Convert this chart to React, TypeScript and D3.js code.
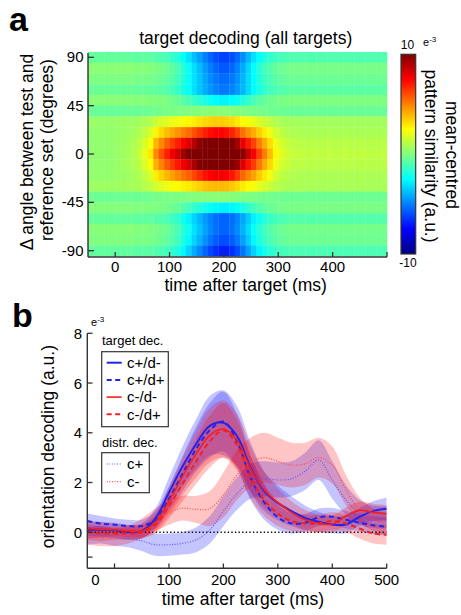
import React from "react";
import * as d3 from "d3";

// ---------- panel a : heatmap ----------
const angles = [90, 80, 70, 60, 50, 40, 30, 20, 10, 0, -10, -20, -30, -40, -50, -60, -70, -80, -90];
// tuning weight of every row (positive = similar, negative = opposite)
const rowWeight = [-0.9, -0.95, -0.85, -0.75, -0.45, 0.05, 0.22, 0.52, 0.8, 1.0, 0.82, 0.54, 0.24, 0.04, -0.45, -0.8, -0.9, -0.95, -1.0];
const rowOffset = [-0.3, 0.5, 0.2, -0.2, 0.3, -0.5, 0.4, 0.2, 0.1, 0.0, 0.1, 0.2, 0.5, -0.4, 0.2, -0.3, 0.4, 0.3, -0.3];
// 10 ms bins from -50 to 500 ms
const binStarts = d3.range(-50, 500, 10);
const posAmp = [0.3, 0.3, 0.3, 0.3, 0.4, 0.5, 0.6, 0.8, 1.0, 1.4, 2.1, 2.9, 4.8, 5.9, 6.9, 7.7, 8.5, 9.3, 10.0, 11.0,
  12.0, 13.0, 13.6, 14.0, 14.0, 13.6, 12.8, 11.4, 9.8, 8.6, 7.6, 6.2, 5.0, 3.8, 2.6, 2.0, 1.6, 1.4, 1.3, 1.3,
  1.2, 1.3, 1.2, 1.2, 1.3, 1.2, 1.2, 1.3, 1.2, 1.2, 1.3, 1.2, 1.2, 1.2, 1.3];
const negAmp = [0.3, 0.3, 0.3, 0.3, 0.3, 0.3, 0.3, 0.3, 0.35, 0.4, 0.4, 0.45, 0.55, 0.7, 0.9, 1.2, 1.6, 2.3, 3.0, 3.8,
  4.5, 5.2, 5.8, 6.3, 6.6, 6.6, 6.3, 5.7, 4.9, 4.0, 3.1, 2.4, 1.8, 1.4, 1.1, 0.9, 0.8, 0.7, 0.7, 0.7,
  0.7, 0.7, 0.7, 0.7, 0.7, 0.7, 0.7, 0.7, 0.7, 0.7, 0.7, 0.7, 0.7, 0.7, 0.7];
const heatXTicks = [0, 100, 200, 300, 400];
const heatYTicks = [90, 45, 0, -45, -90];

// ---------- panel b : decoding time courses ----------
const times = [-50, -25, 0, 25, 50, 75, 100, 125, 150, 175, 200, 225, 250, 275, 300, 325, 350, 375, 400, 425, 450, 475, 500];
const cpdm = [0.1, 0.1, 0.08, 0.0, 0.05, 0.55, 1.6, 2.65, 3.55, 4.28, 4.4, 3.87, 2.6, 1.65, 1.18, 0.85, 0.58, 0.42, 0.31, 0.31, 0.62, 0.85, 0.94];
const cpdp = [0.45, 0.35, 0.3, 0.25, 0.25, 0.5, 1.35, 2.35, 3.35, 4.1, 4.45, 3.65, 2.2, 1.2, 0.6, 0.35, 0.38, 0.6, 0.62, 0.5, 0.38, 0.28, 0.22];
const cmdm = [0.15, 0.12, 0.1, 0.05, 0.05, 0.4, 1.25, 2.25, 3.15, 3.9, 4.15, 3.7, 2.55, 1.7, 1.2, 0.8, 0.5, 0.35, 0.33, 0.65, 0.88, 0.8, 0.75];
const cmdp = [0.0, -0.05, -0.05, -0.05, 0.0, 0.3, 1.05, 1.95, 2.85, 3.65, 4.1, 3.5, 2.2, 1.3, 0.75, 0.45, 0.35, 0.35, 0.45, 0.35, 0.15, -0.05, -0.1];
const distCp = [-0.15, -0.1, -0.2, -0.25, -0.35, -0.5, -0.5, -0.45, -0.3, 0.1, 0.85, 1.55, 2.05, 2.15, 2.1, 2.15, 2.45, 2.9, 2.1, 1.3, 0.8, 0.62, 0.6];
const distCm = [-0.15, -0.2, -0.2, -0.1, 0.15, 0.5, 0.8, 0.97, 0.92, 0.95, 1.5, 2.3, 2.8, 3.0, 2.85, 2.7, 2.75, 3.0, 2.7, 1.7, 0.9, 0.5, 0.3];
const semCpdm = [0.35, 0.3, 0.3, 0.3, 0.3, 0.4, 0.6, 0.8, 1.0, 1.2, 1.3, 1.2, 1.0, 0.8, 0.7, 0.6, 0.5, 0.4, 0.35, 0.35, 0.35, 0.4, 0.45];
const semCpdp = [0.3, 0.3, 0.25, 0.25, 0.25, 0.35, 0.5, 0.7, 0.9, 1.1, 1.2, 1.1, 0.9, 0.7, 0.5, 0.4, 0.35, 0.35, 0.35, 0.35, 0.35, 0.35, 0.35];
const semCmdm = [0.3, 0.3, 0.25, 0.25, 0.25, 0.35, 0.55, 0.75, 0.95, 1.1, 1.15, 1.05, 0.9, 0.7, 0.55, 0.45, 0.4, 0.35, 0.35, 0.35, 0.35, 0.35, 0.35];
const semCmdp = [0.3, 0.3, 0.25, 0.25, 0.25, 0.35, 0.5, 0.7, 0.9, 1.05, 1.1, 1.0, 0.85, 0.65, 0.5, 0.4, 0.35, 0.35, 0.35, 0.35, 0.4, 0.4, 0.4];
const semDistCp = [0.35, 0.35, 0.35, 0.35, 0.4, 0.45, 0.45, 0.45, 0.5, 0.55, 0.6, 0.65, 0.7, 0.7, 0.7, 0.7, 0.75, 0.8, 0.75, 0.6, 0.5, 0.45, 0.45];
const semDistCm = [0.35, 0.35, 0.35, 0.35, 0.4, 0.45, 0.5, 0.5, 0.55, 0.7, 0.9, 1.0, 1.0, 1.0, 0.95, 0.9, 0.85, 0.8, 0.75, 0.6, 0.5, 0.45, 0.45];
const lineXTicks = [0, 100, 200, 300, 400, 500];
const lineYTicks = [8, 6, 4, 2, 0];

const BLUE = "#2424e8";
const RED = "#f22020";
const FONT = "Arial, 'Liberation Sans', sans-serif";
const AX = "#333";

const jet = d3
  .scaleLinear<string>()
  .domain([-10, -7.5, -2.5, 2.5, 7.5, 10])
  .range(["#00007f", "#0000ff", "#00ffff", "#ffff00", "#ff0000", "#7f0000"])
  .clamp(true);

export default function App() {
  // panel a scales
  const xA = d3.scaleLinear().domain([-50, 500]).range([88, 387]);
  const yA = d3.scaleLinear().domain([-90, 90]).range([250.7, 57.3]);
  // panel b scales
  const xB = d3.scaleLinear().domain([-50, 500]).range([87.3, 386.7]);
  const yB = d3.scaleLinear().domain([-1.45, 8]).range([568.3, 333.3]);

  const cells: { x: number; y: number; w: number; h: number; c: string }[] = [];
  angles.forEach((a, r) => {
    binStarts.forEach((t, i) => {
      const w = rowWeight[r];
      const v = rowOffset[r] + w * (w > 0 ? posAmp[i] : negAmp[i]);
      cells.push({
        x: xA(t),
        y: yA(a + 5),
        w: xA(t + 10) - xA(t) + 0.3,
        h: yA(a - 5) - yA(a + 5) + 0.3,
        c: jet(v),
      });
    });
  });

  const series = [
    { v: cpdm, s: semCpdm, color: BLUE, width: 2, dash: "none" },
    { v: cpdp, s: semCpdp, color: BLUE, width: 2, dash: "5,3.5" },
    { v: cmdm, s: semCmdm, color: RED, width: 1.6, dash: "none" },
    { v: cmdp, s: semCmdp, color: RED, width: 2, dash: "5,3.5" },
    { v: distCp, s: semDistCp, color: "#5a5aff", width: 1.2, dash: "1,1.6" },
    { v: distCm, s: semDistCm, color: "#ff4a4a", width: 1.2, dash: "1,1.6" },
  ];
  const bandOrder = [4, 0, 1, 5, 2, 3];
  const bandFill = ["#0000ff", "#0000ff", "#ff0000", "#ff0000", "#0000ff", "#ff0000"];

  const line = (vals: number[]) =>
    d3
      .line<number>()
      .x((_, i) => xB(times[i]))
      .y((d) => yB(d))
      .curve(d3.curveCatmullRom.alpha(0.5))(vals) || "";
  const area = (vals: number[], sem: number[]) =>
    d3
      .area<number>()
      .x((_, i) => xB(times[i]))
      .y0((d, i) => yB(d - sem[i]))
      .y1((d, i) => yB(d + sem[i]))
      .curve(d3.curveCatmullRom.alpha(0.5))(vals) || "";

  const legendTarget = [
    { label: "c+/d-", ...series[0] },
    { label: "c+/d+", ...series[1] },
    { label: "c-/d-", ...series[2] },
    { label: "c-/d+", ...series[3] },
  ];
  const legendDist = [
    { label: "c+", ...series[4] },
    { label: "c-", ...series[5] },
  ];

  return (
    <svg width={461} height={615} style={{ position: "absolute", left: 0, top: 0, background: "#fff" }} fontFamily={FONT}>
      <defs>
        <linearGradient id="jet" x1="0" y1="0" x2="0" y2="1">
          <stop offset="0" stopColor="#7f0000" />
          <stop offset="0.125" stopColor="#ff0000" />
          <stop offset="0.375" stopColor="#ffff00" />
          <stop offset="0.625" stopColor="#00ffff" />
          <stop offset="0.875" stopColor="#0000ff" />
          <stop offset="1" stopColor="#00007f" />
        </linearGradient>
        <clipPath id="clipB">
          <rect x={xB(-50)} y={yB(8)} width={xB(500) - xB(-50)} height={yB(-1.45) - yB(8)} />
        </clipPath>
      </defs>

      {/* ---------------- panel a ---------------- */}
      <text x={9} y={31} fontSize={34} fontWeight="bold">a</text>
      <text x={245.7} y={44} fontSize={17.5} textAnchor="middle">target decoding (all targets)</text>
      <g>
        {cells.map((d, i) => (
          <rect key={i} x={d.x} y={d.y} width={d.w} height={d.h} fill={d.c} />
        ))}
      </g>
      <line x1={88} x2={88} y1={53} y2={257} stroke={AX} strokeWidth={1.4} />
      <line x1={88} x2={387} y1={257} y2={257} stroke={AX} strokeWidth={1.4} />
      {heatYTicks.map((t) => (
        <g key={t}>
          <line x1={88} x2={94} y1={yA(t)} y2={yA(t)} stroke={AX} strokeWidth={1.3} />
          <text x={83.5} y={yA(t) + 5} fontSize={15} textAnchor="end">{t}</text>
        </g>
      ))}
      {[...heatXTicks, 500].map((t) => (
        <line key={t} x1={xA(t)} x2={xA(t)} y1={257} y2={252} stroke={AX} strokeWidth={1.3} />
      ))}
      {heatXTicks.map((t) => (
        <text key={t} x={xA(t)} y={272} fontSize={15} textAnchor="middle">{t}</text>
      ))}
      <text x={245.7} y={291} fontSize={17.5} textAnchor="middle">time after target (ms)</text>
      <text transform="translate(32.5,152) rotate(-90)" fontSize={17.5} textAnchor="middle">Δ angle between test and</text>
      <text transform="translate(53,150) rotate(-90)" fontSize={17.5} textAnchor="middle">reference set (degrees)</text>

      {/* colorbar */}
      <rect x={401} y={54.3} width={14.7} height={199.7} fill="url(#jet)" stroke={AX} strokeWidth={1.2} />
      <text x={407.5} y={49} fontSize={12} textAnchor="middle">10</text>
      <text x={408} y={266.5} fontSize={12} textAnchor="middle">-10</text>
      <text x={423} y={46} fontSize={11}>e<tspan dy={-4} fontSize={8}>-3</tspan></text>
      <text transform="translate(445.5,155) rotate(90)" fontSize={17.5} textAnchor="middle">mean-centred</text>
      <text transform="translate(424.5,156) rotate(90)" fontSize={17.5} textAnchor="middle">pattern similarity (a.u.)</text>

      {/* ---------------- panel b ---------------- */}
      <text x={12} y={326.5} fontSize={34} fontWeight="bold">b</text>
      <g clipPath="url(#clipB)">
        {bandOrder.map((k) => (
          <path
            key={k}
            d={area(series[k].v, series[k].s)}
            fill={bandFill[k]}
            fillOpacity={0.23}
            stroke="none"
          />
        ))}
        <line x1={xB(-50)} x2={xB(500)} y1={yB(0)} y2={yB(0)} stroke="#111" strokeWidth={1.5} strokeDasharray="1.4,2.2" />
        {[4, 5, 0, 1, 3, 2].map((k) => (
          <path
            key={k}
            d={line(series[k].v)}
            fill="none"
            stroke={series[k].color}
            strokeWidth={series[k].width}
            strokeDasharray={series[k].dash}
          />
        ))}
      </g>
      <line x1={87.3} x2={87.3} y1={333.3} y2={568.3} stroke={AX} strokeWidth={1.4} />
      <line x1={87.3} x2={386.7} y1={568.3} y2={568.3} stroke={AX} strokeWidth={1.4} />
      {[...lineYTicks, -1].map((t) => (
        <line key={t} x1={87.3} x2={92.5} y1={yB(t)} y2={yB(t)} stroke={AX} strokeWidth={1.3} />
      ))}
      {lineYTicks.map((t) => (
        <text key={t} x={82} y={yB(t) + 5.5} fontSize={15} textAnchor="end">{t}</text>
      ))}
      {lineXTicks.map((t) => (
        <g key={t}>
          <line x1={xB(t)} x2={xB(t)} y1={568.3} y2={563.5} stroke={AX} strokeWidth={1.3} />
          <text x={xB(t) + (t === 0 ? -19 : 0)} y={585} fontSize={15} textAnchor="middle">{t}</text>
        </g>
      ))}
      <text x={91} y={326} fontSize={11}>e<tspan dy={-4} fontSize={8}>-3</tspan></text>
      <text x={243} y={604.5} fontSize={17.5} textAnchor="middle">time after target (ms)</text>
      <text transform="translate(54,446.7) rotate(-90)" fontSize={17.5} textAnchor="middle">orientation decoding (a.u.)</text>

      {/* legends */}
      <text x={102} y={345} fontSize={13}>target dec.</text>
      <rect x={101.7} y={351.7} width={66.6} height={75} fill="#fff" stroke={AX} strokeWidth={1.2} />
      {legendTarget.map((d, i) => {
        const cy = 362.7 + i * 17.2;
        return (
          <g key={d.label}>
            <line x1={106.7} x2={121.7} y1={cy} y2={cy} stroke={d.color} strokeWidth={d.width} strokeDasharray={d.dash} />
            <text x={127} y={cy + 5.3} fontSize={15}>{d.label}</text>
          </g>
        );
      })}
      <text x={102} y={447.3} fontSize={13}>distr. dec.</text>
      <rect x={101.7} y={452.7} width={47.6} height={40} fill="#fff" stroke={AX} strokeWidth={1.2} />
      {legendDist.map((d, i) => {
        const cy = 464 + i * 17.7;
        return (
          <g key={d.label}>
            <line x1={106.7} x2={121.7} y1={cy} y2={cy} stroke={d.color} strokeWidth={d.width} strokeDasharray={d.dash} />
            <text x={127} y={cy + 5.3} fontSize={15}>{d.label}</text>
          </g>
        );
      })}
    </svg>
  );
}
